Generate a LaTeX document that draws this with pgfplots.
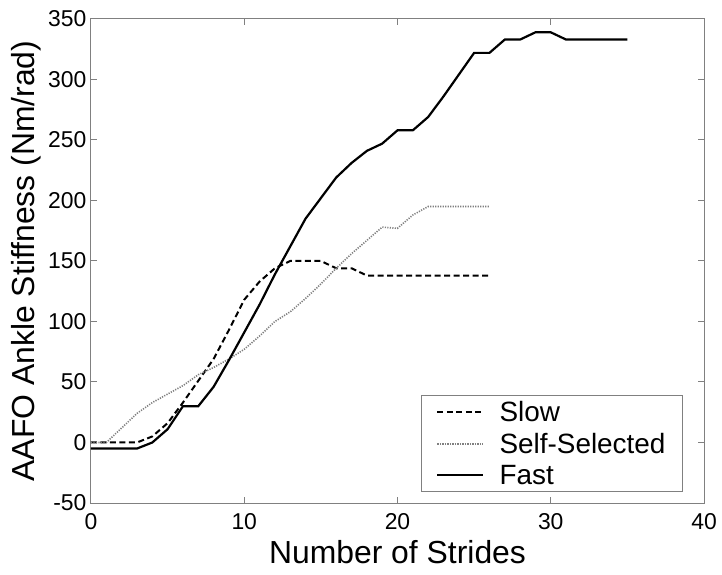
\documentclass[border=0pt]{standalone}
\usepackage{pgfplots}
\pgfplotsset{compat=1.18}
\usepackage{fontspec}
\setmainfont{Liberation Sans}
\begin{document}
\begin{tikzpicture}
\useasboundingbox (-91bp,-72bp) rectangle (631bp,503bp);
\begin{axis}[
  at={(0,0)}, anchor=south west,
  scale only axis, width=613bp, height=484bp,
  xmin=0, xmax=40, ymin=-50, ymax=350,
  xtick={0,10,20,30,40}, ytick={-50,0,50,100,150,200,250,300,350},
  tick align=inside, major tick length=6bp,
  axis line style={gray, line width=1bp},
  every tick/.style={gray, line width=1bp},
  tick label style={font=\fontsize{23}{27}\selectfont},
  /pgf/number format/assume math mode=true,
  xticklabel style={anchor=base, yshift=-26bp},
  yticklabel style={anchor=east, xshift=-1bp},
  xlabel={Number of Strides},
  xlabel style={font=\fontsize{32}{38}\selectfont, at={(axis description cs:0.5,-0.126)}, anchor=base},
  ylabel={AAFO Ankle Stiffness (Nm/rad)},
  ylabel style={font=\fontsize{32}{38}\selectfont, at={(axis description cs:-0.0914,0.5)}, anchor=base},
  legend style={at={(axis description cs:0.9657,0.0227)}, anchor=south east, draw=gray, line width=1bp,
    font=\fontsize{28}{32}\selectfont, inner xsep=15bp, inner ysep=4bp, row sep=6bp, column sep=13bp},
  legend cell align=left,
  legend image code/.code={\draw[#1] (0bp,0bp) -- (46bp,0bp);},
]
\addplot[black, line width=2bp, dash pattern=on 6bp off 3.5bp] coordinates {
(0,0)(1,0)(2,0)(3,0)(4,5)(5,16)(6,33)(7,51)(8,69)(9,93)(10,118)(11,133)(12,144)(13,150)(14,150)(15,150)(16,144)(17,144)(18,138)(19,138)(20,138)(21,138)(22,138)(23,138)(24,138)(25,138)(26,138)
};
\addlegendentry{Slow}
\addplot[gray, line width=1.6bp, dash pattern=on 1.2bp off 1.3bp] coordinates {
(0,0)(1,0)(2,12)(3,24)(4,33)(5,40)(6,47)(7,56)(8,62)(9,69)(10,77)(11,88)(12,100)(13,108)(14,119)(15,131)(16,144)(17,156)(18,167)(19,178)(20,177)(21,188)(22,195)(23,195)(24,195)(25,195)(26,195)
};
\addlegendentry{Self-Selected}
\addplot[black, line width=2.2bp] coordinates {
(0,-5)(1,-5)(2,-5)(3,-5)(4,0)(5,11)(6,30)(7,30)(8,46)(9,68)(10,91)(11,114)(12,139)(13,162)(14,185)(15,202)(16,219)(17,231)(18,241)(19,247)(20,258)(21,258)(22,269)(23,286)(24,304)(25,322)(26,322)(27,333)(28,333)(29,339)(30,339)(31,333)(32,333)(33,333)(34,333)(35,333)
};
\addlegendentry{Fast}
\end{axis}
\end{tikzpicture}
\end{document}
